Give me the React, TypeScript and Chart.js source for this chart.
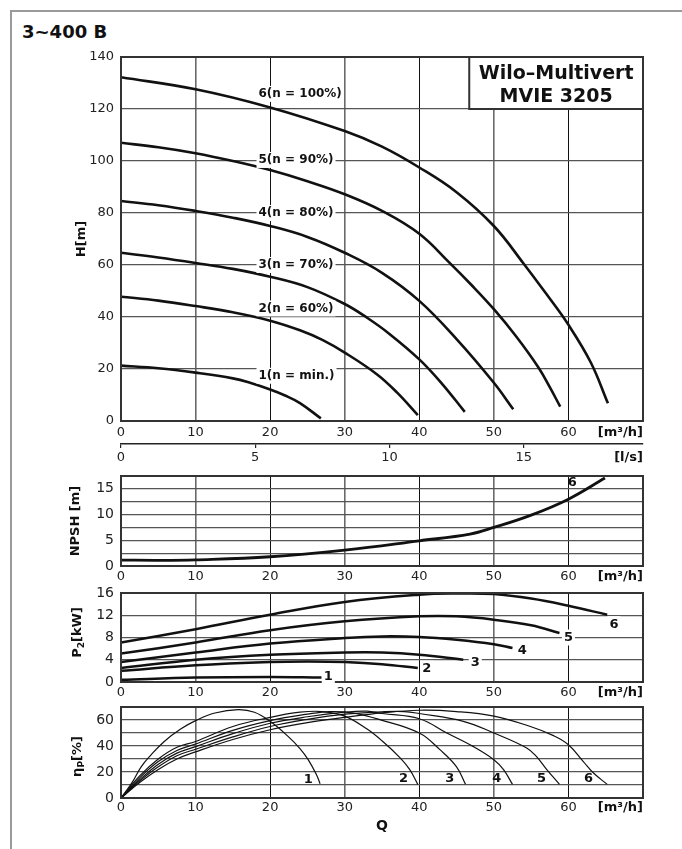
import React, { useEffect, useRef } from 'react';
import { Chart, registerables } from 'chart.js';

Chart.register(...registerables);

// ---------------- DATA ----------------
const Q_MAX = 70;
const Q_TICKS = [0, 10, 20, 30, 40, 50, 60];
const LS_TICKS = [0, 5, 10, 15];

const H_TICKS = [0, 20, 40, 60, 80, 100, 120, 140];
const NPSH_TICKS = [0, 5, 10, 15];
const P2_TICKS = [0, 4, 8, 12, 16];
const ETA_TICKS = [0, 20, 40, 60];

// Head curves H [m] vs Q [m3/h]
const H1_Q = [0, 5, 10, 15, 17.3, 20, 22, 24, 26.8];
const H1_H = [21.3, 20.3, 18.6, 16.4, 14.7, 12.1, 9.8, 6.9, 1.0];
const H2_Q = [0, 5, 10, 15, 20, 24, 27, 30, 34.3, 37, 39.8];
const H2_H = [47.8, 46.3, 44.2, 41.8, 38.6, 34.9, 31.2, 26.3, 18, 11, 2.3];
const H3_Q = [0, 5, 10, 15, 20, 25, 30, 33, 36, 40, 43, 46.1];
const H3_H = [64.7, 62.9, 60.8, 58.5, 55.5, 51.5, 45, 39.7, 33.5, 23.7, 14.5, 3.5];
const H4_Q = [0, 5, 10, 15, 20, 25, 30, 35, 40, 45, 50, 52.6];
const H4_H = [84.6, 83, 80.8, 78.2, 75, 70.8, 64.7, 57, 46.2, 31.5, 14.7, 4.5];
const H5_Q = [0, 5, 10, 15, 20, 25, 30, 35, 40, 44, 47, 50, 53, 56, 57.5, 58.9];
const H5_H = [107, 105.3, 103, 100, 96.5, 92.2, 87.2, 80.8, 72, 61, 52.3, 43, 32.5, 20.5, 13, 5.5];
const H6_Q = [0, 10, 20, 30, 35, 40, 45, 50, 54, 57, 60, 63, 65.3];
const H6_H = [132.2, 127.6, 120.6, 111.5, 105.5, 97.5, 88, 75, 60.5, 49, 37, 22.5, 6.8];
const H_LABELS = ['1(n = min.)', '2(n = 60%)', '3(n = 70%)', '4(n = 80%)', '5(n = 90%)', '6(n = 100%)'];

// NPSH [m]
const NPSH_Q = [0, 5, 10, 20, 30, 40, 46.8, 50, 55, 60, 64.9];
const NPSH_V = [1.15, 1.1, 1.2, 1.8, 3.1, 4.9, 6.2, 7.5, 9.9, 13, 17.1];

// P2 [kW]
const P1_Q = [0, 10, 20, 26.9];
const P1_V = [0.4, 0.8, 0.9, 0.8];
const P2_Q = [0, 10, 20, 25, 30, 35, 39.8];
const P2_V = [2.0, 3.0, 3.6, 3.7, 3.6, 3.2, 2.5];
const P3_Q = [0, 10, 20, 30, 35, 40, 45.9];
const P3_V = [2.5, 4.0, 4.9, 5.3, 5.3, 4.9, 4.0];
const P4_Q = [0, 10, 20, 30, 35, 40, 45, 50, 52.5];
const P4_V = [3.6, 5.3, 6.9, 7.9, 8.2, 8.1, 7.6, 6.8, 6.1];
const P5_Q = [0, 10, 20, 30, 40, 45, 50, 55, 58.8];
const P5_V = [5.1, 7.1, 9.3, 10.9, 11.8, 11.8, 11.2, 10.2, 8.8];
const P6_Q = [0, 10, 20, 30, 40, 45, 50, 55, 60, 65.2];
const P6_V = [7.1, 9.5, 12.1, 14.4, 15.7, 15.9, 15.8, 15.0, 13.7, 12.1];

// Efficiency eta_P [%]
const E1_Q = [0, 1.5, 2.7, 4, 5.8, 8, 10, 12.6, 15.7, 17.9, 20, 22.4, 24, 25.1, 26.2, 26.7];
const E1_V = [0, 12, 24, 33, 43.5, 53, 59.5, 65.4, 68, 66, 59, 47.4, 38, 29.5, 18, 11];
const E2_Q = [0, 2.5, 5, 7.5, 10, 15, 20, 24, 27, 30, 33, 35, 37.4, 38.7, 39.8];
const E2_V = [0, 17, 30, 39, 43.5, 55, 62, 66, 66.5, 63, 53, 44, 31, 22, 10.5];
const E3_Q = [0, 2.5, 5, 7.5, 10, 15, 20, 25, 28, 31, 34.7, 40, 42.8, 45, 46.2];
const E3_V = [0, 15.5, 28, 36.5, 41.5, 52, 59.5, 64.5, 66.5, 65.5, 60.3, 50, 37, 24, 10.5];
const E4_Q = [0, 2.5, 5, 7.5, 10, 15, 20, 25, 30, 33, 35, 40, 43.7, 47.2, 50, 51.3, 52.5];
const E4_V = [0, 14, 26, 34.5, 39.5, 49.5, 57.5, 62.5, 66, 66.8, 65, 61, 50, 39.7, 29.5, 21.8, 10.5];
const E5_Q = [0, 2.5, 5, 7.5, 10, 15, 20, 25, 30, 35, 38, 40, 45.9, 50, 54.4, 55.7, 57.1, 58.8];
const E5_V = [0, 13, 24, 32.5, 37.5, 47, 55, 60.5, 64.5, 66.3, 66.5, 65, 59, 50, 38.5, 32, 21.8, 10.5];
const E6_Q = [0, 2.5, 5, 7.5, 10, 15, 20, 25, 30, 35, 40, 45, 50, 54.9, 58, 60, 62, 63.4, 65.2];
const E6_V = [0, 12, 22, 30, 35.5, 45, 52.5, 58, 62, 65.5, 67.5, 66.5, 63, 55, 48, 41, 28, 19, 10.5];

const CURVE_NUMS = ['1', '2', '3', '4', '5', '6'];

// ---------------- STYLE HELPERS ----------------
const FF = "'DejaVu Sans', 'Liberation Sans', sans-serif";
const INK = '#111';

function xy(qs: number[], vs: number[]) {
  return qs.map((q, i) => ({ x: q, y: vs[i] }));
}

function line(qs: number[], vs: number[], w: number) {
  return {
    data: xy(qs, vs),
    borderColor: INK,
    borderWidth: w,
    pointRadius: 0,
    fill: false,
    tension: 0.4,
  };
}

const vColor = (c: any) => (c.tick && Math.round(c.tick.value) % 20 === 10 ? '#6a6a6a' : '#111');
const vWidth = (c: any) => (c.tick && Math.round(c.tick.value) % 20 === 10 ? 1.6 : 1);

function xScale(height: number, pad: number) {
  return {
    type: 'linear',
    min: 0,
    max: Q_MAX,
    weight: 0,
    ticks: {
      stepSize: 10,
      autoSkip: false,
      maxRotation: 0,
      padding: pad,
      color: '#222',
      font: { family: FF, size: 13 },
      callback: (v: number) => (Q_TICKS.includes(v) ? String(v) : ''),
    },
    grid: { drawTicks: false, color: vColor, lineWidth: vWidth },
    border: { display: false },
    afterFit: (s: any) => {
      s.height = height;
    },
  };
}

function yScale(max: number, step: number, labels: number[], size: number) {
  return {
    type: 'linear',
    min: 0,
    max,
    ticks: {
      stepSize: step,
      autoSkip: false,
      padding: 7,
      color: '#222',
      font: { family: FF, size },
      callback: (v: number) => (labels.some((l) => Math.abs(l - v) < 1e-6) ? String(v) : ''),
    },
    grid: { drawTicks: false, color: '#555', lineWidth: 1.2 },
    border: { display: false },
    afterFit: (s: any) => {
      s.width = 121;
    },
  };
}

function text(
  ctx: CanvasRenderingContext2D,
  t: string,
  x: number,
  y: number,
  font: string,
  align: CanvasTextAlign,
  bg: boolean
) {
  ctx.save();
  ctx.font = font;
  ctx.textAlign = align;
  ctx.textBaseline = 'middle';
  if (bg) {
    const w = ctx.measureText(t).width;
    const left = align === 'left' ? x : align === 'center' ? x - w / 2 : x - w;
    ctx.fillStyle = '#fff';
    ctx.fillRect(left - 2, y - 8, w + 4, 16);
  }
  ctx.fillStyle = INK;
  ctx.fillText(t, x, y);
  ctx.restore();
}

type Part = { t: string; size: number; dy: number };
function rotated(ctx: CanvasRenderingContext2D, parts: Part[], cx: number, cy: number) {
  ctx.save();
  ctx.translate(cx, cy);
  ctx.rotate(-Math.PI / 2);
  ctx.textBaseline = 'middle';
  ctx.textAlign = 'left';
  ctx.fillStyle = INK;
  let total = 0;
  const ws: number[] = [];
  for (const p of parts) {
    ctx.font = `bold ${p.size}px ${FF}`;
    const w = ctx.measureText(p.t).width;
    ws.push(w);
    total += w;
  }
  let x = -total / 2;
  parts.forEach((p, i) => {
    ctx.font = `bold ${p.size}px ${FF}`;
    ctx.fillText(p.t, x, p.dy);
    x += ws[i];
  });
  ctx.restore();
}

function frame(chart: any) {
  const { ctx, chartArea: a } = chart;
  ctx.save();
  ctx.strokeStyle = '#333';
  ctx.lineWidth = 2;
  ctx.strokeRect(a.left, a.top, a.right - a.left, a.bottom - a.top);
  ctx.restore();
}

function unitLabel(chart: any, t: string, dy: number) {
  const a = chart.chartArea;
  text(chart.ctx, t, a.right, a.bottom + dy, `bold 13px ${FF}`, 'right', false);
}

const baseOptions = {
  responsive: false,
  animation: false,
  events: [],
  plugins: { legend: { display: false }, tooltip: { enabled: false } },
};

// ---------------- CHART CONFIGS ----------------
function headConfig(): any {
  const labelPos = [
    [18.44, 17.4],
    [18.44, 43.3],
    [18.44, 60],
    [18.44, 80],
    [18.44, 100.4],
    [18.44, 125.8],
  ];
  return {
    type: 'line',
    data: {
      datasets: [
        line(H1_Q, H1_H, 2.6),
        line(H2_Q, H2_H, 2.6),
        line(H3_Q, H3_H, 2.6),
        line(H4_Q, H4_H, 2.6),
        line(H5_Q, H5_H, 2.6),
        line(H6_Q, H6_H, 2.6),
      ],
    },
    options: {
      ...baseOptions,
      layout: { padding: { left: 0, right: 39, top: 17, bottom: 0 } },
      scales: {
        x: xScale(23, 4),
        x2: {
          type: 'linear',
          position: 'bottom',
          weight: 1,
          min: 0,
          max: Q_MAX / 3.6,
          ticks: {
            stepSize: 5,
            includeBounds: false,
            autoSkip: false,
            maxRotation: 0,
            padding: 2,
            color: '#222',
            font: { family: FF, size: 13 },
            callback: (v: number) => (LS_TICKS.includes(v) ? String(v) : ''),
          },
          grid: { drawOnChartArea: false, drawTicks: true, tickLength: 4, color: '#222', lineWidth: 1.2 },
          border: { display: true, color: '#222', width: 1.5 },
          afterFit: (s: any) => {
            s.height = 26;
          },
        },
        y: yScale(140, 20, H_TICKS, 13),
      },
    },
    plugins: [
      {
        id: 'headAnno',
        afterDraw(chart: any) {
          const { ctx, chartArea: a, scales } = chart;
          frame(chart);
          const bl = scales.x.getPixelForValue(46.7);
          const bb = scales.y.getPixelForValue(120);
          ctx.save();
          ctx.fillStyle = '#fff';
          ctx.fillRect(bl, a.top, a.right - bl, bb - a.top);
          ctx.strokeStyle = '#333';
          ctx.lineWidth = 2;
          ctx.strokeRect(bl, a.top, a.right - bl, bb - a.top);
          ctx.restore();
          const mid = (bl + a.right) / 2;
          text(ctx, 'Wilo–Multivert', mid, a.top + 17, `bold 19px ${FF}`, 'center', false);
          text(ctx, 'MVIE 3205', mid, a.top + 40, `bold 19px ${FF}`, 'center', false);
          H_LABELS.forEach((t, i) => {
            const [lx, ly] = labelPos[i];
            text(ctx, t, scales.x.getPixelForValue(lx), scales.y.getPixelForValue(ly), `bold 12px ${FF}`, 'left', true);
          });
          unitLabel(chart, '[m³/h]', 12);
          unitLabel(chart, '[l/s]', 37);
          rotated(ctx, [{ t: 'H[m]', size: 13, dy: 0 }], 82, (a.top + a.bottom) / 2);
        },
      },
    ],
  };
}

function npshConfig(): any {
  return {
    type: 'line',
    data: { datasets: [line(NPSH_Q, NPSH_V, 2.8)] },
    options: {
      ...baseOptions,
      layout: { padding: { left: 0, right: 39, top: 20, bottom: 0 } },
      scales: { x: xScale(24, 3), y: yScale(17.5, 2.5, NPSH_TICKS, 14) },
    },
    plugins: [
      {
        id: 'npshAnno',
        afterDraw(chart: any) {
          const { ctx, chartArea: a, scales } = chart;
          frame(chart);
          text(ctx, CURVE_NUMS[5], scales.x.getPixelForValue(60.5), scales.y.getPixelForValue(16.2), `bold 13px ${FF}`, 'center', false);
          unitLabel(chart, '[m³/h]', 11);
          rotated(ctx, [{ t: 'NPSH [m]', size: 13, dy: 0 }], 76, (a.top + a.bottom) / 2);
        },
      },
    ],
  };
}

function powerConfig(): any {
  const pos = [
    [27.8, 0.9],
    [41, 2.4],
    [47.5, 3.5],
    [53.8, 5.6],
    [60, 8.0],
    [66.1, 10.4],
  ];
  return {
    type: 'line',
    data: {
      datasets: [
        line(P1_Q, P1_V, 2.5),
        line(P2_Q, P2_V, 2.5),
        line(P3_Q, P3_V, 2.5),
        line(P4_Q, P4_V, 2.5),
        line(P5_Q, P5_V, 2.5),
        line(P6_Q, P6_V, 2.5),
      ],
    },
    options: {
      ...baseOptions,
      layout: { padding: { left: 0, right: 39, top: 20, bottom: 0 } },
      scales: { x: xScale(23, 3), y: yScale(16, 4, P2_TICKS, 14) },
    },
    plugins: [
      {
        id: 'powerAnno',
        afterDraw(chart: any) {
          const { ctx, chartArea: a, scales } = chart;
          frame(chart);
          CURVE_NUMS.forEach((t, i) => {
            text(ctx, t, scales.x.getPixelForValue(pos[i][0]), scales.y.getPixelForValue(pos[i][1]), `bold 13px ${FF}`, 'center', true);
          });
          unitLabel(chart, '[m³/h]', 11);
          rotated(
            ctx,
            [
              { t: 'P', size: 13, dy: 0 },
              { t: '2', size: 9, dy: 4 },
              { t: '[kW]', size: 13, dy: 0 },
            ],
            78,
            (a.top + a.bottom) / 2 - 5
          );
        },
      },
    ],
  };
}

function etaConfig(): any {
  const pos = [
    [25.1, 14.1],
    [37.9, 14.6],
    [44.1, 14.6],
    [50.4, 14.6],
    [56.4, 14.6],
    [62.7, 14.6],
  ];
  return {
    type: 'line',
    data: {
      datasets: [
        line(E1_Q, E1_V, 1.2),
        line(E2_Q, E2_V, 1.2),
        line(E3_Q, E3_V, 1.2),
        line(E4_Q, E4_V, 1.2),
        line(E5_Q, E5_V, 1.2),
        line(E6_Q, E6_V, 1.2),
      ],
    },
    options: {
      ...baseOptions,
      layout: { padding: { left: 0, right: 39, top: 20, bottom: 0 } },
      scales: { x: xScale(51, 2), y: yScale(70, 10, ETA_TICKS, 14) },
    },
    plugins: [
      {
        id: 'etaAnno',
        afterDraw(chart: any) {
          const { ctx, chartArea: a, scales } = chart;
          frame(chart);
          CURVE_NUMS.forEach((t, i) => {
            text(ctx, t, scales.x.getPixelForValue(pos[i][0]), scales.y.getPixelForValue(pos[i][1]), `bold 13px ${FF}`, 'center', false);
          });
          unitLabel(chart, '[m³/h]', 10);
          text(ctx, 'Q', 382, a.bottom + 28, `bold 14px ${FF}`, 'center', false);
          rotated(
            ctx,
            [
              { t: 'η', size: 13, dy: 0 },
              { t: 'P', size: 9, dy: 4 },
              { t: '[%]', size: 13, dy: 0 },
            ],
            78,
            (a.top + a.bottom) / 2 + 4
          );
        },
      },
    ],
  };
}

export default function App() {
  const r1 = useRef<HTMLCanvasElement>(null);
  const r2 = useRef<HTMLCanvasElement>(null);
  const r3 = useRef<HTMLCanvasElement>(null);
  const r4 = useRef<HTMLCanvasElement>(null);

  useEffect(() => {
    const charts: Chart[] = [];
    if (r1.current) charts.push(new Chart(r1.current, headConfig()));
    if (r2.current) charts.push(new Chart(r2.current, npshConfig()));
    if (r3.current) charts.push(new Chart(r3.current, powerConfig()));
    if (r4.current) charts.push(new Chart(r4.current, etaConfig()));
    return () => charts.forEach((c) => c.destroy());
  }, []);

  const cv = (top: number): React.CSSProperties => ({ position: 'absolute', left: 0, top });

  return (
    <div
      style={{
        position: 'absolute',
        left: 0,
        top: 0,
        width: 682,
        height: 849,
        overflow: 'hidden',
        background: '#fff',
      }}
    >
      <div
        style={{
          position: 'absolute',
          left: 10,
          top: 10,
          width: 672,
          height: 839,
          borderLeft: '2px solid #9a9a9a',
          borderTop: '2px solid #9a9a9a',
          boxSizing: 'border-box',
        }}
      />
      <div
        style={{
          position: 'absolute',
          left: 22,
          top: 23,
          font: `bold 18px ${FF}`,
          lineHeight: '18px',
          color: INK,
          whiteSpace: 'nowrap',
        }}
      >
        3~400 B
      </div>
      <div style={cv(40)}>
        <canvas ref={r1} width={682} height={430} />
      </div>
      <div style={cv(456)}>
        <canvas ref={r2} width={682} height={134} />
      </div>
      <div style={cv(573)}>
        <canvas ref={r3} width={682} height={132} />
      </div>
      <div style={cv(687)}>
        <canvas ref={r4} width={682} height={162} />
      </div>
    </div>
  );
}
